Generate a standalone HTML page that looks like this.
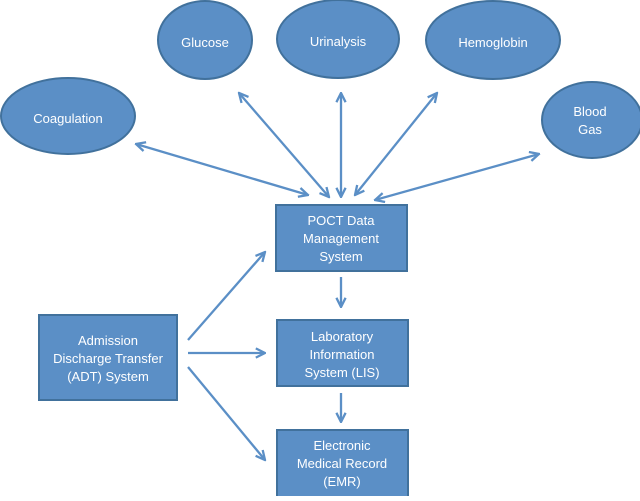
<!DOCTYPE html>
<html><head><style>
html,body{margin:0;padding:0;background:#fff;}
svg text{font-family:"Liberation Sans",sans-serif;font-size:13px;fill:#fff;text-anchor:middle;}
</style></head><body>
<svg width="640" height="496" viewBox="0 0 640 496" xmlns="http://www.w3.org/2000/svg">
<defs>
<marker id="a" viewBox="0 0 10 10" refX="9" refY="5" markerWidth="5" markerHeight="5" orient="auto-start-reverse">
<path d="M1,1 L9,5 L1,9" fill="none" stroke="#5b8fc6" stroke-width="2"/>
</marker>
</defs>
<g fill="#5b8fc6" stroke="#41719c" stroke-width="2">
<ellipse cx="205" cy="40" rx="47" ry="39"/>
<ellipse cx="338" cy="39" rx="61" ry="39"/>
<ellipse cx="493" cy="40" rx="67" ry="39"/>
<ellipse cx="68" cy="116" rx="67" ry="38"/>
<ellipse cx="592" cy="120" rx="50" ry="38"/>
<rect x="276" y="205" width="131" height="66"/>
<rect x="277" y="320" width="131" height="66"/>
<rect x="277" y="430" width="131" height="70"/>
<rect x="39" y="315" width="138" height="85"/>
</g>
<g stroke="#5b8fc6" stroke-width="2.3" fill="none" marker-end="url(#a)" marker-start="url(#a)">
<line x1="136" y1="144" x2="308" y2="195"/>
<line x1="239" y1="93" x2="329" y2="197"/>
<line x1="341" y1="93" x2="341" y2="197"/>
<line x1="437" y1="93" x2="355" y2="195"/>
<line x1="539" y1="154" x2="375" y2="200"/>
</g>
<g stroke="#5b8fc6" stroke-width="2.3" fill="none" marker-end="url(#a)">
<line x1="341" y1="277" x2="341" y2="307"/>
<line x1="341" y1="393" x2="341" y2="422"/>
<line x1="188" y1="340" x2="265" y2="252"/>
<line x1="188" y1="353" x2="265" y2="353"/>
<line x1="188" y1="367" x2="265" y2="460"/>
</g>
<text x="205" y="47">Glucose</text>
<text x="338" y="46">Urinalysis</text>
<text x="493" y="47">Hemoglobin</text>
<text x="68" y="123">Coagulation</text>
<text x="590" y="116">Blood</text>
<text x="590" y="134">Gas</text>
<text x="341" y="225">POCT Data</text>
<text x="341" y="243">Management</text>
<text x="341" y="261">System</text>
<text x="342" y="341">Laboratory</text>
<text x="342" y="359">Information</text>
<text x="342" y="377">System (LIS)</text>
<text x="342" y="450">Electronic</text>
<text x="342" y="468">Medical Record</text>
<text x="342" y="486">(EMR)</text>
<text x="108" y="345">Admission</text>
<text x="108" y="363">Discharge Transfer</text>
<text x="108" y="381">(ADT) System</text>
</svg>
</body></html>
